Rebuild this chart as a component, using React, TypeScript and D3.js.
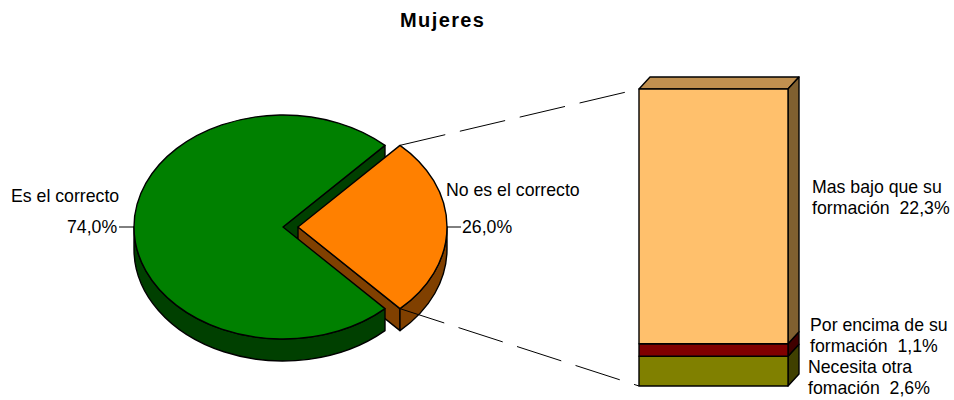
import React from "react";
import * as d3 from "d3";

const pieLabels = ["No es el correcto", "Es el correcto"];
const pieValues = [26.0, 74.0];
const pieColors = ["#FF8000", "#008000"];
const pieDark = ["#804000", "#004000"];
const stackLines = [
  ["Necesita otra", "fomación  2,6%"],
  ["Por encima de su", "formación  1,1%"],
  ["Mas bajo que su", "formación  22,3%"],
];
const stackValues = [2.6, 1.1, 22.3];
const stackColors = ["#808000", "#800000", "#FFC06C"];
const stackSide = ["#404000", "#400000", "#806030"];

const FONT = "'Liberation Sans', Arial, sans-serif";
const rx = 149, ry = 112, depth = 22;

const pt = (cx: number, cy: number, a: number, dy = 0): [number, number] => [
  cx + rx * Math.sin(a),
  cy - ry * Math.cos(a) + dy,
];
const poly = (p: [number, number][]) => d3.line()(p)! + "Z";

export default function App() {
  const startAngle = (Math.PI / 180) * (90 - 46.8);
  const arcs = d3
    .pie<number>()
    .sort(null)
    .startAngle(startAngle)
    .endAngle(startAngle + 2 * Math.PI)(pieValues);
  const [o, g] = arcs;
  const oc: [number, number] = [298, 227];
  const gc: [number, number] = [283, 227];

  const top = (c: [number, number], s: number, e: number) => {
    const a = pt(c[0], c[1], s), b = pt(c[0], c[1], e);
    const large = e - s > Math.PI ? 1 : 0;
    return `M${c}L${a}A${rx},${ry} 0 ${large} 1 ${b}Z`;
  };
  const side = (c: [number, number], s: number, e: number) => {
    const a = pt(c[0], c[1], s), b = pt(c[0], c[1], e);
    const a2 = pt(c[0], c[1], s, depth), b2 = pt(c[0], c[1], e, depth);
    return `M${a}A${rx},${ry} 0 0 1 ${b}L${b2}A${rx},${ry} 0 0 0 ${a2}Z`;
  };

  const y = d3.scaleLinear().domain([0, d3.sum(stackValues)]).range([386, 89]);
  const x0 = 639, x1 = 788, ox = 11, oy = -12;
  let acc = 0;
  const segs = stackValues.map((v, i) => {
    const s = { i, y0: y(acc), y1: y(acc + v) };
    acc += v;
    return s;
  });
  const stroke = { stroke: "#000", strokeWidth: 1.4, strokeLinejoin: "round" as const };
  const text = { fontFamily: FONT, fontSize: 17.7, fill: "#000", style: { whiteSpace: "pre" as const } };

  const oA = pt(oc[0], oc[1], o.startAngle);
  const oB = pt(oc[0], oc[1], o.endAngle);
  const gB = pt(gc[0], gc[1], g.endAngle);

  return (
    <svg width={954} height={400} style={{ position: "absolute", left: 0, top: 0 }}>
      <rect width={954} height={400} fill="#fff" />
      <text x={400} y={27} fontFamily={FONT} fontSize={20} fontWeight="bold" letterSpacing={1.4}>
        Mujeres
      </text>

      {/* green inner wall at the upper cut */}
      <path d={poly([gB, [gc[0], gc[1]], [gc[0], gc[1] + depth], [gB[0], gB[1] + depth]])} fill={pieDark[1]} {...stroke} />
      {/* orange walls */}
      <path d={poly([[oc[0], oc[1]], oB, [oB[0], oB[1] + depth], [oc[0], oc[1] + depth]])} fill={pieDark[0]} {...stroke} />
      <path d={side(oc, Math.PI / 2, o.endAngle)} fill={pieDark[0]} {...stroke} />
      {/* green outer side: visible part runs from lower corner to the left extreme */}
      <path d={side(gc, g.startAngle, Math.PI * 1.5)} fill={pieDark[1]} {...stroke} />
      <path d={top(gc, g.startAngle, g.endAngle)} fill={pieColors[1]} {...stroke} />
      <path d={top(oc, o.startAngle, o.endAngle)} fill={pieColors[0]} {...stroke} />

      {/* series lines */}
      <line x1={oA[0]} y1={oA[1]} x2={639} y2={89} stroke="#000" strokeWidth={1} strokeDasharray="46.5,15" />
      <line x1={oB[0]} y1={oB[1]} x2={639} y2={386} stroke="#000" strokeWidth={1} strokeDasharray="46.5,15" />

      {/* stacked column */}
      <path d={poly([[x0, 89], [x0 + ox, 89 + oy], [x1 + ox, 89 + oy], [x1, 89]])} fill="#C09050" {...stroke} />
      {segs.map((s) => (
        <g key={s.i}>
          <path
            d={poly([[x1, s.y0], [x1, s.y1], [x1 + ox, s.y1 + oy], [x1 + ox, s.y0 + oy]])}
            fill={stackSide[s.i]}
            {...stroke}
          />
          <rect x={x0} y={s.y1} width={x1 - x0} height={s.y0 - s.y1} fill={stackColors[s.i]} {...stroke} />
        </g>
      ))}

      {/* labels */}
      <text x={11} y={201.5} {...text}>{pieLabels[1]}</text>
      <text x={67} y={233} {...text}>74,0%</text>
      <line x1={119} y1={227} x2={134} y2={227} stroke="#000" />
      <text x={446} y={195.5} {...text}>{pieLabels[0]}</text>
      <text x={462} y={233} {...text}>26,0%</text>
      <line x1={447} y1={227} x2={461} y2={227} stroke="#000" />
      <text {...text}>
        <tspan x={812} y={193}>{stackLines[2][0]}</tspan>
        <tspan x={812} y={213.5}>{stackLines[2][1]}</tspan>
      </text>
      <text {...text}>
        <tspan x={810} y={331}>{stackLines[1][0]}</tspan>
        <tspan x={810} y={352}>{stackLines[1][1]}</tspan>
      </text>
      <text {...text}>
        <tspan x={808} y={373}>{stackLines[0][0]}</tspan>
        <tspan x={808} y={394}>{stackLines[0][1]}</tspan>
      </text>
    </svg>
  );
}
